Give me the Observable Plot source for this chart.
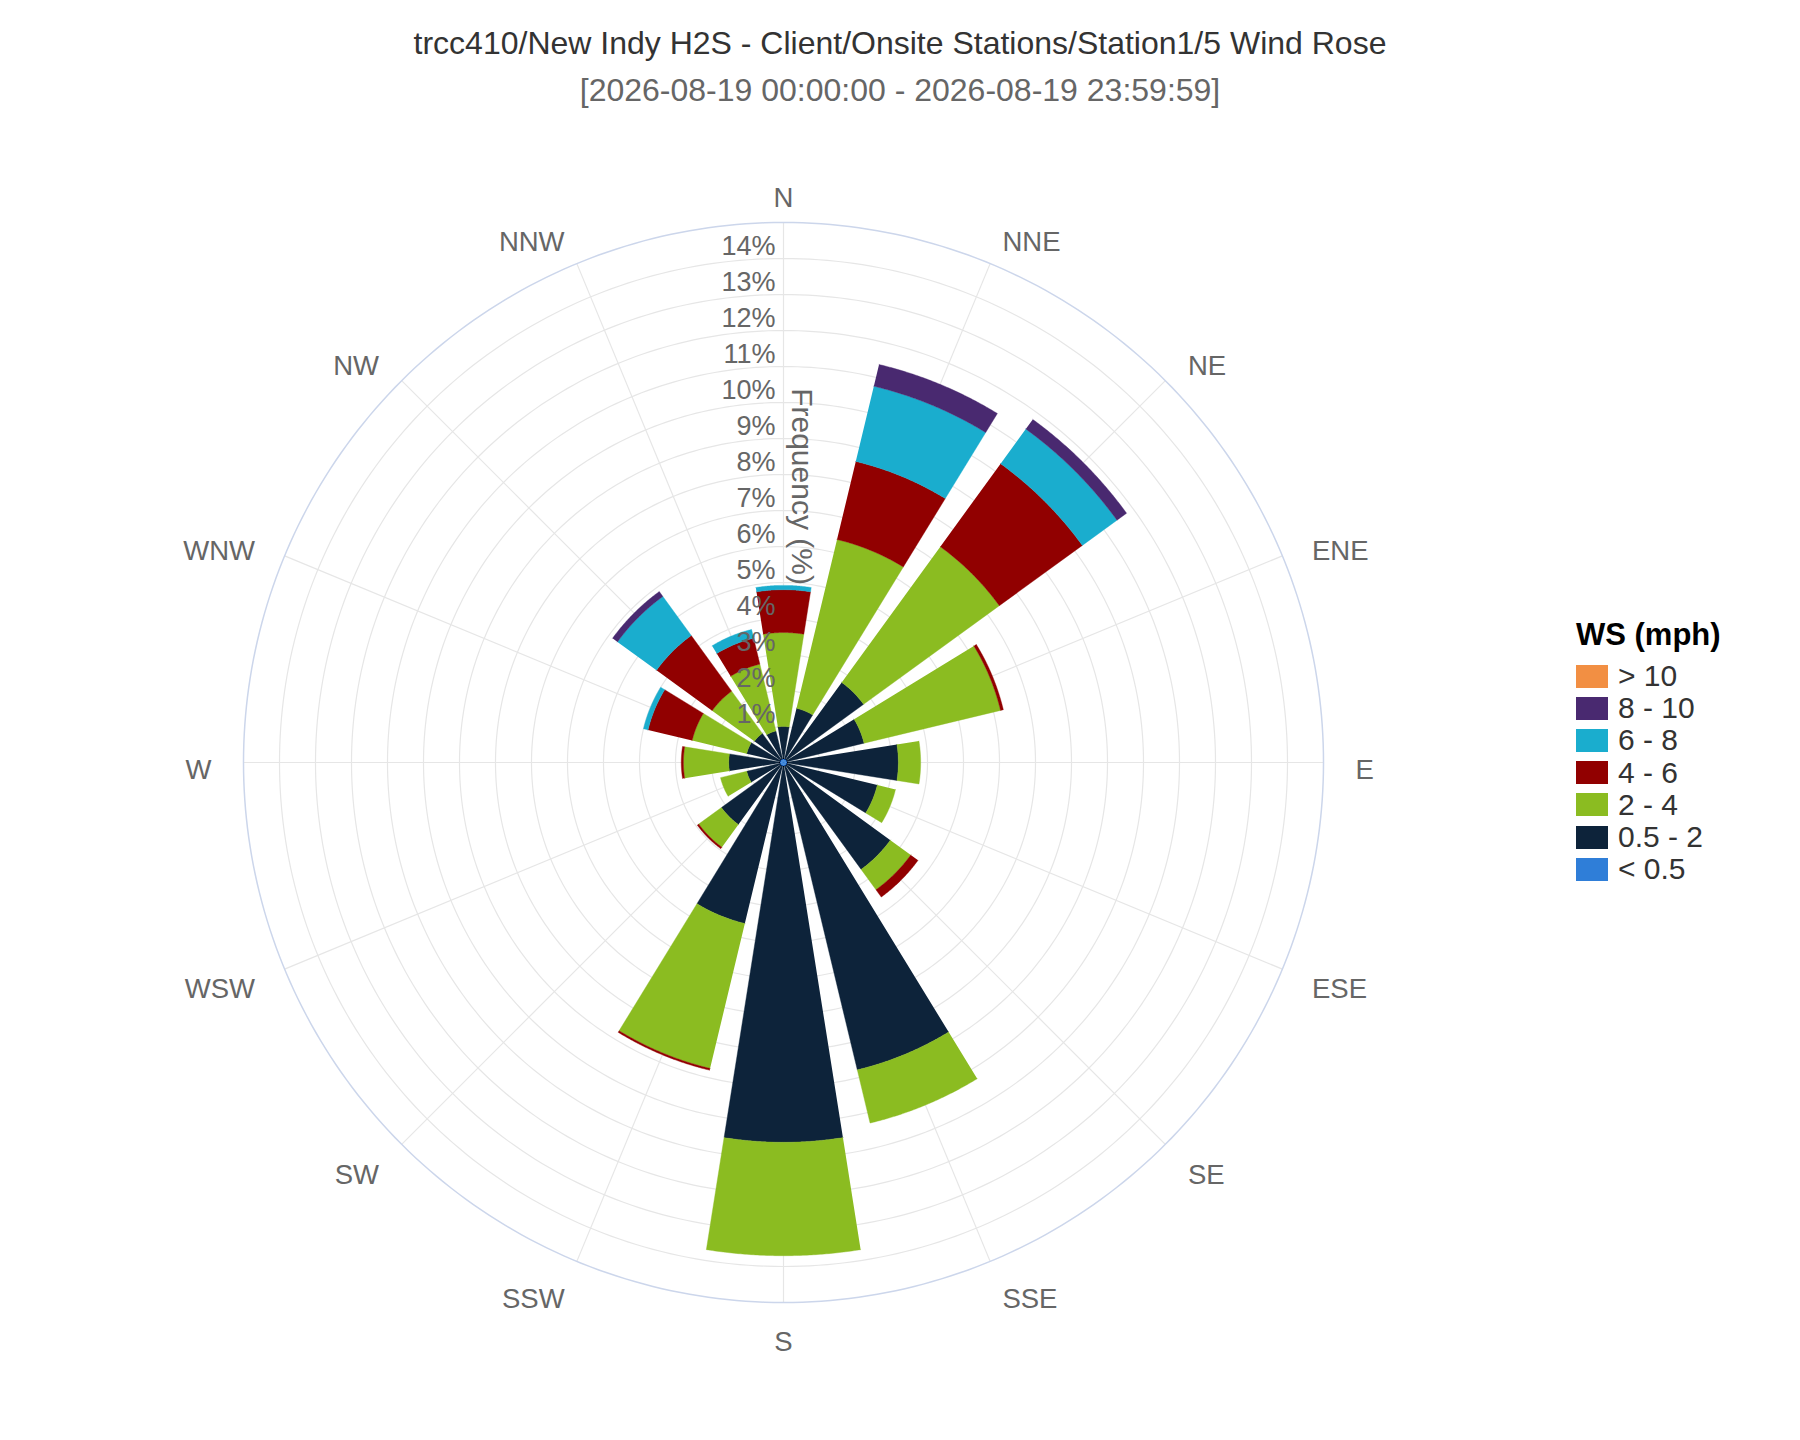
<!DOCTYPE html>
<html>
<head>
<meta charset="utf-8">
<script src="https://cdn.jsdelivr.net/npm/d3@7"></script>
<script src="https://cdn.jsdelivr.net/npm/@observablehq/plot@0.6"></script>
<style>
  body { margin: 0; background: #fff; font-family: "Liberation Sans", Arial, sans-serif; }
  #wrap { position: relative; width: 1800px; height: 1440px; overflow: hidden; }
  #title { position: absolute; left: 0; top: 25px; width: 1800px; text-align: center; font-size: 32px; line-height: 36px; color: #333; }
  #subtitle { position: absolute; left: 0; top: 72px; width: 1800px; text-align: center; font-size: 32px; line-height: 36px; color: #666; }
  #chart { position: absolute; left: 0; top: 120px; }
  #legend { position: absolute; left: 1576px; top: 615px; color: #333; }
  #legend .lt { font-weight: bold; font-size: 31px; color: #000; line-height: 40px; height: 40px; margin-bottom: 5px; }
  #legend .item { display: flex; align-items: center; height: 32.2px; font-size: 30px; }
  #legend .sw { width: 32px; height: 23px; margin-right: 10px; }
</style>
</head>
<body>
<div id="wrap">
  <div id="title"></div>
  <div id="subtitle"></div>
  <div id="chart"></div>
  <div id="legend"></div>
</div>
<script>
// ---- data ----
const titleText = "trcc410/New Indy H2S - Client/Onsite Stations/Station1/5 Wind Rose";
const subtitleText = "[2026-08-19 00:00:00 - 2026-08-19 23:59:59]";
const legendTitle = "WS (mph)";
const axisTitle = "Frequency (%)";

const directions = ["N","NNE","NE","ENE","E","ESE","SE","SSE","S","SSW","SW","WSW","W","WNW","NW","NNW"];
const bins = ["< 0.5","0.5 - 2","2 - 4","4 - 6","6 - 8","8 - 10","> 10"];
const binColors = ["#2f7ed8","#0d233a","#8bbc21","#910000","#1aadce","#492970","#f28f43"];

// frequency (%) of each wind speed class per direction (N ... NNW)
const wsCalm  = [0.1,0.1,0.1,0.1,0.1,0.1,0.1,0.1,0.1,0.1,0.1,0.1,0.1,0.1,0.1,0.1];
const ws05_2  = [0.9,1.45,2.65,2.2,3.09,2.58,3.57,8.68,10.45,4.5,2.03,0.95,1.42,0.95,0.9,0.8];
const ws2_4   = [2.61,4.82,4.66,3.9,0.62,0.52,0.7,1.52,3.15,4.14,0.78,0.75,1.26,1.56,1.45,1.91];
const ws4_6   = [1.19,2.23,2.85,0.08,0,0,0.25,0,0,0.05,0.05,0,0.06,1.26,1.91,0.74];
const ws6_8   = [0.12,2.15,1.19,0,0,0,0,0,0,0,0,0,0,0.13,1.34,0.25];
const ws8_10  = [0,0.62,0.33,0,0,0,0,0,0,0,0,0,0,0,0.17,0];
const ws10    = [0,0,0,0,0,0,0,0,0,0,0,0,0,0,0,0];

const radialTicks = [1,2,3,4,5,6,7,8,9,10,11,12,13,14];
const radialMax = 15;

// ---- build ----
document.getElementById("title").textContent = titleText;
document.getElementById("subtitle").textContent = subtitleText;

const series = [wsCalm, ws05_2, ws2_4, ws4_6, ws6_8, ws8_10, ws10];
const rad = Math.PI / 180;
const step = 360 / directions.length;
const half = step * 0.4;

const wedgePts = [];
directions.forEach((dir, i) => {
  let base = 0;
  series.forEach((vals, j) => {
    const v = vals[i];
    if (!(v > 0)) return;
    const top = base + v;
    const id = dir + "-" + j;
    const a0 = i * step - half, a1 = i * step + half;
    for (let a = a0; a <= a1 + 1e-9; a += 0.25)
      wedgePts.push({id, bin: bins[j], x: top * Math.sin(a * rad), y: top * Math.cos(a * rad)});
    for (let a = a1; a >= a0 - 1e-9; a -= 0.25)
      wedgePts.push({id, bin: bins[j], x: base * Math.sin(a * rad), y: base * Math.cos(a * rad)});
    base = top;
  });
});

const ringPts = [];
[...radialTicks, radialMax].forEach(k => {
  for (let a = 0; a <= 360; a += 1) ringPts.push({k, x: k * Math.sin(a * rad), y: k * Math.cos(a * rad)});
});

const labelR = radialMax + 0.89;
const dirIdx = directions.map((d, i) => ({d, i, s: Math.sin(i * step * rad), c: Math.cos(i * step * rad)}));

const cx = 783, cy = 642, R = 540;
const chart = Plot.plot({
  width: 1800,
  height: 1320,
  margin: 0,
  x: {domain: [-radialMax, radialMax], range: [cx - R, cx + R], axis: null},
  y: {domain: [-radialMax, radialMax], range: [cy + R, cy - R], axis: null},
  color: {domain: bins, range: binColors},
  style: {fontFamily: "'Liberation Sans', Arial, sans-serif", background: "white"},
  marks: [
    Plot.line(ringPts.filter(d => d.k < radialMax), {x: "x", y: "y", z: "k", stroke: "#e6e6e6", strokeWidth: 1.2}),
    Plot.link(dirIdx, {x1: d => 0, y1: d => 0, x2: d => radialMax * d.s, y2: d => radialMax * d.c, stroke: "#e6e6e6", strokeWidth: 1.2}),
    Plot.line(ringPts.filter(d => d.k === radialMax), {x: "x", y: "y", z: "k", stroke: "#ccd6eb", strokeWidth: 1.5}),
    Plot.text([axisTitle], {x: d => 0, y: d => radialMax / 2, text: d => d, rotate: 90, dx: 18, dy: -6, fontSize: 30, fill: "#666", textAnchor: "middle", lineAnchor: "middle"}),
    Plot.line(wedgePts, {x: "x", y: "y", z: "id", fill: "bin", stroke: "bin", strokeWidth: 0.4}),
    Plot.text(radialTicks, {x: d => 0, y: d => d, text: d => d + "%", textAnchor: "end", lineAnchor: "bottom", dx: -8, dy: -4, fontSize: 27, fill: "#666"}),
    Plot.text(dirIdx.filter(d => d.s > 0.1), {x: d => labelR * d.s, y: d => labelR * d.c, text: "d", textAnchor: "start", lineAnchor: "middle", dy: 8, fontSize: 27.5, fill: "#666"}),
    Plot.text(dirIdx.filter(d => d.s < -0.1), {x: d => labelR * d.s, y: d => labelR * d.c, text: "d", textAnchor: "end", lineAnchor: "middle", dy: 8, fontSize: 27.5, fill: "#666"}),
    Plot.text(dirIdx.filter(d => Math.abs(d.s) <= 0.1), {x: d => labelR * d.s, y: d => labelR * d.c, text: "d", textAnchor: "middle", lineAnchor: "middle", dy: 8, fontSize: 27.5, fill: "#666"})
  ]
});
document.getElementById("chart").appendChild(chart);

// legend (reversed order, like the reference)
const legend = document.getElementById("legend");
const lt = document.createElement("div");
lt.className = "lt";
lt.textContent = legendTitle;
legend.appendChild(lt);
bins.map((b, j) => ({b, c: binColors[j]})).reverse().forEach(({b, c}) => {
  const it = document.createElement("div");
  it.className = "item";
  const sw = document.createElement("span");
  sw.className = "sw";
  sw.style.background = c;
  const tx = document.createElement("span");
  tx.textContent = b;
  it.appendChild(sw);
  it.appendChild(tx);
  legend.appendChild(it);
});
</script>
</body>
</html>
